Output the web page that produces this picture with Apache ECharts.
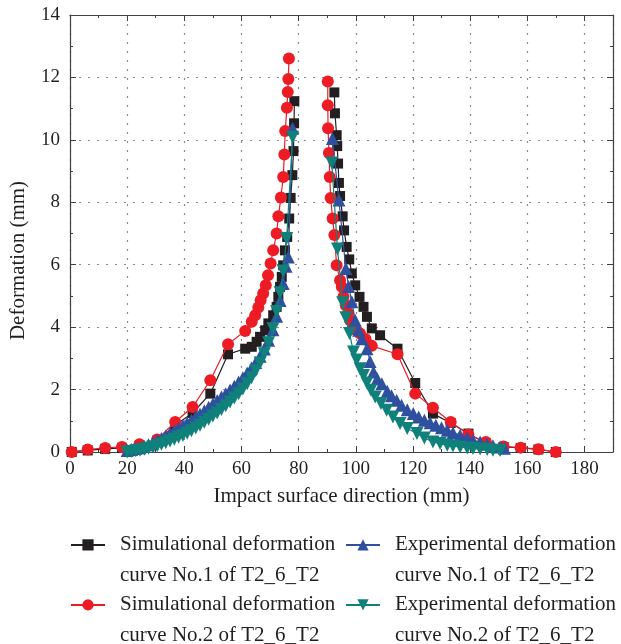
<!DOCTYPE html>
<html>
<head>
<meta charset="utf-8">
<script src="https://cdn.jsdelivr.net/npm/echarts@6/dist/echarts.min.js"></script>
<style>html,body{margin:0;padding:0;background:#fff}#c{width:621px;height:644px}</style>
</head>
<body>
<div id="c"></div>
<script>
// ---- Data ----
const xTicks = [0, 20, 40, 60, 80, 100, 120, 140, 160, 180];
const yTicks = [0, 2, 4, 6, 8, 10, 12, 14];

const names = [
  'Simulational deformation\ncurve No.1 of T2_6_T2',
  'Simulational deformation\ncurve No.2 of T2_6_T2',
  'Experimental deformation\ncurve No.1 of T2_6_T2',
  'Experimental deformation\ncurve No.2 of T2_6_T2'
];

// Simulational No.1 (black squares)
const sim1LeftX = [0.6,6.2,12.3,18.2,24.3,30.5,36.8,42.9,49.1,55.3,61.3,63.6,65.3,66.5,68.3,69.4,71.1,72.3,72.9,73.5,74.1,74.6,75.2,76.0,76.7,77.2,77.8,78.2,78.4,78.5];
const sim1LeftY = [0,0.05,0.1,0.13,0.2,0.35,0.86,1.25,1.87,3.13,3.31,3.37,3.53,3.69,3.9,4.12,4.38,4.65,4.97,5.29,5.61,5.98,6.46,6.89,7.48,8.14,8.87,9.64,10.53,11.24];
const sim1RightX = [92.5,92.7,93.3,93.5,93.8,94.1,94.5,95.4,95.9,96.8,97.7,98.6,99.8,101.3,102.7,103.9,105.6,108.5,114.6,120.8,127,133.2,139.4,145.5,151.7,157.7,163.9,170];
const sim1RightY = [11.52,10.85,10.15,9.8,9.24,8.62,8.2,7.55,7.1,6.57,6.17,5.72,5.34,4.97,4.65,4.33,3.96,3.74,3.31,2.21,1.23,0.93,0.59,0.27,0.16,0.13,0.08,0];

// Simulational No.2 (red circles)
const sim2LeftX = [0.6,6.2,12.3,18.2,24.3,30.5,36.8,42.9,49.1,55.3,61.3,63.6,64.8,65.9,66.7,67.6,68.5,69.3,70.2,71.1,72.3,72.9,73.8,74.6,75.0,75.3,75.9,76.2,76.4,76.6];
const sim2LeftY = [0,0.08,0.13,0.16,0.25,0.4,0.96,1.44,2.3,3.45,3.88,4.17,4.38,4.63,4.86,5.08,5.34,5.66,6.04,6.46,7.0,7.55,8.15,8.81,9.53,10.28,11.03,11.53,11.95,12.61];
const sim2RightX = [90.2,90.2,90.3,90.6,90.9,91.2,91.9,92.5,93.3,94.5,95.1,95.7,96.5,97.3,98.0,99.0,100.2,101.5,103.4,105.6,114.6,120.8,127,133.2,139.4,145.5,151.7,157.7,163.9,170];
const sim2RightY = [11.87,11.11,10.37,9.58,8.81,8.14,7.48,6.95,5.98,5.5,5.29,4.97,4.7,4.45,4.22,4.05,3.9,3.8,3.62,3.4,3.13,1.87,1.42,0.96,0.56,0.32,0.18,0.14,0.09,0];

// Experimental No.1 (blue triangles)
const exp1LeftX = [20,21.5,23,24.5,26,27.5,29,30.5,32,33.5,35,36.5,38,39.5,41,42.5,44,45.5,47,48.5,50,51.5,53,54.5,56,57.5,59,60.5,62,63.5,65,66.5,68,69.5,71,72.3,73.5,74.6,75.6,76.4,77.9];
const exp1LeftY = [0.05,0.08,0.11,0.14,0.18,0.23,0.29,0.36,0.43,0.51,0.6,0.68,0.76,0.84,0.93,1.02,1.12,1.22,1.32,1.43,1.54,1.65,1.76,1.87,1.99,2.11,2.24,2.38,2.53,2.69,2.87,3.07,3.3,3.58,3.92,4.35,4.85,5.4,5.95,6.25,10.37];
const exp1RightX = [91.8,94.1,96.5,97.5,98.6,99.8,101,102.1,103.9,105,106.2,107.5,109.1,111,112.5,114.3,116,118,120.1,122,124,126,128,130,132,134,136.5,139,141,143.5,146,148,150.5,152];
const exp1RightY = [10.04,8.07,5.88,5.3,4.81,4.22,3.9,3.63,3.31,2.9,2.56,2.35,2.19,1.95,1.8,1.66,1.5,1.35,1.23,1.12,1.02,0.94,0.86,0.78,0.7,0.62,0.54,0.45,0.38,0.32,0.25,0.2,0.16,0.12];

// Experimental No.2 (teal inverted triangles)
const exp2LeftX = [20,21.5,23,24.5,26,27.5,29,30.5,32,33.5,35,36.5,38,39.5,41,42.5,44,45.5,47,48.5,50,51.5,53,54.5,56,57.5,59,60.5,62,63.5,65,66.5,68,69.5,71,72.3,73.5,74.6,75.8,77.9];
const exp2LeftY = [0,0.02,0.04,0.06,0.09,0.12,0.16,0.2,0.25,0.3,0.35,0.41,0.47,0.53,0.6,0.68,0.77,0.86,0.95,1.05,1.15,1.25,1.36,1.48,1.6,1.73,1.87,2.02,2.19,2.38,2.6,2.85,3.15,3.5,3.95,4.5,5.1,5.8,6.84,10.08];
const exp2RightX = [91.6,93.6,95.4,96.5,97.8,99.2,100.3,101.5,102.7,103.9,105.3,106.8,108.8,110.8,113,115.5,118,121.4,124,127,129.5,132,134,136.5,139,141,143.5,146,148,150.5];
const exp2RightY = [9.26,6.5,4.78,4.3,3.8,3.2,2.95,2.67,2.45,2.21,1.98,1.76,1.55,1.34,1.12,0.91,0.75,0.59,0.45,0.32,0.27,0.22,0.19,0.16,0.13,0.11,0.1,0.08,0.06,0.05];

const colors = ['#231f20', '#ed1c24', '#2f4f9f', '#0f807a'];

// ---- Build chart ----
const pairs = (xs, ys) => xs.map((x, i) => [x, ys[i]]);
const FONT = 'Liberation Serif';
const AX = '#404040';

function mkSeries(name, color, data, symbol, size, rotate, z) {
  return {
    type: 'line', name, data, symbol, symbolSize: size, symbolRotate: rotate || 0,
    showAllSymbol: true, smooth: false, z,
    lineStyle: { color, width: 1.2 },
    itemStyle: { color, borderWidth: 0 },
    emphasis: { disabled: true },
    xAxisIndex: 0, yAxisIndex: 0
  };
}

const series = [
  mkSeries(names[0], colors[0], pairs(sim1LeftX, sim1LeftY), 'rect', 10, 0, 2),
  mkSeries(names[0], colors[0], pairs(sim1RightX, sim1RightY), 'rect', 10, 0, 2),
  mkSeries(names[1], colors[1], pairs(sim2LeftX, sim2LeftY), 'circle', 12, 0, 3),
  mkSeries(names[1], colors[1], pairs(sim2RightX, sim2RightY), 'circle', 12, 0, 3),
  mkSeries(names[2], colors[2], pairs(exp1LeftX, exp1LeftY), 'triangle', 13, 0, 4),
  mkSeries(names[2], colors[2], pairs(exp1RightX, exp1RightY), 'triangle', 13, 0, 4),
  mkSeries(names[3], colors[3], pairs(exp2LeftX, exp2LeftY), 'triangle', 13, 180, 5),
  mkSeries(names[3], colors[3], pairs(exp2RightX, exp2RightY), 'triangle', 13, 180, 5)
];

function mkLegend(name, left, top) {
  return {
    data: [name], left, top, orient: 'horizontal', padding: 0,
    itemWidth: 34, itemHeight: 14, selectedMode: false,
    formatter: n => '\n' + n,
    textStyle: { fontFamily: FONT, fontSize: 21, color: '#231f20', lineHeight: 30.6, padding: [0, 0, 0, 10] }
  };
}

const xMin = 0, xMax = 190, xInt = 20;
const yMin = 0, yMax = 14, yInt = 2;

const tickCommon = { show: true, inside: true, length: 6, lineStyle: { color: AX, width: 1 } };
const minorCommon = { show: true, splitNumber: 2, length: 3, lineStyle: { color: AX, width: 1 } };
const splitCommon = { show: true, lineStyle: { color: '#8a8a8a', type: [2, 7], width: 1.2 } };

const option = {
  animation: false,
  backgroundColor: '#fff',
  grid: { left: 70, right: 8, top: 15, bottom: 192, containLabel: false },
  xAxis: [
    {
      type: 'value', min: xMin, max: xMax, interval: xInt, position: 'bottom',
      name: 'Impact surface direction (mm)', nameLocation: 'middle', nameGap: 34,
      nameTextStyle: { fontFamily: FONT, fontSize: 21, color: '#231f20' },
      axisLine: { show: true, onZero: false, lineStyle: { color: AX, width: 1.2 } },
      axisTick: tickCommon, minorTick: minorCommon,
      axisLabel: { fontFamily: FONT, fontSize: 19, color: '#231f20', margin: 8,
        formatter: v => (xTicks.indexOf(v) >= 0 ? String(v) : '') },
      splitLine: splitCommon
    },
    {
      type: 'value', min: xMin, max: xMax, interval: xInt, position: 'top',
      axisLine: { show: true, onZero: false, lineStyle: { color: AX, width: 1.2 } },
      axisTick: tickCommon, minorTick: minorCommon,
      axisLabel: { show: false }, splitLine: { show: false }
    }
  ],
  yAxis: [
    {
      type: 'value', min: yMin, max: yMax, interval: yInt, position: 'left',
      name: 'Deformation (mm)', nameLocation: 'middle', nameGap: 41,
      nameTextStyle: { fontFamily: FONT, fontSize: 21, color: '#231f20', padding: [0, 54, 0, 0] },
      axisLine: { show: true, onZero: false, lineStyle: { color: AX, width: 1.2 } },
      axisTick: tickCommon, minorTick: minorCommon,
      axisLabel: { fontFamily: FONT, fontSize: 19, color: '#231f20', margin: 10,
        formatter: v => (yTicks.indexOf(v) >= 0 ? String(v) : '') },
      splitLine: splitCommon
    },
    {
      type: 'value', min: yMin, max: yMax, interval: yInt, position: 'right',
      axisLine: { show: true, onZero: false, lineStyle: { color: AX, width: 1.2 } },
      axisTick: tickCommon, minorTick: minorCommon,
      axisLabel: { show: false }, splitLine: { show: false }
    }
  ],
  legend: [
    mkLegend(names[0], 70, 499),
    mkLegend(names[1], 70, 559),
    mkLegend(names[2], 345, 499),
    mkLegend(names[3], 345, 559)
  ],
  series
};

const chart = echarts.init(document.getElementById('c'), null, { renderer: 'canvas' });
chart.setOption(option);
</script>
</body>
</html>
